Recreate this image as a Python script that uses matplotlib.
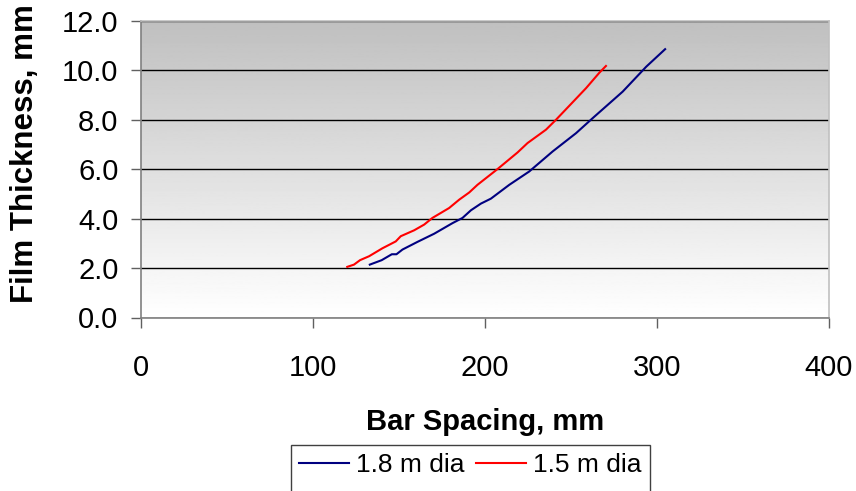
import numpy as np
import matplotlib.pyplot as plt
from matplotlib.patches import Rectangle

plt.rcParams['font.family'] = ['Liberation Sans', 'DejaVu Sans']

# bar spacing (mm) vs film thickness (mm)
spacing_18 = [133.2, 140.1, 146.0, 148.7, 152.2, 160.9, 170.6, 181.3, 187.1, 192.0,
              197.8, 203.6, 214.3, 225.9, 239.5, 253.1, 262.8, 280.2, 293.9, 304.9]
thick_18 = [2.14, 2.32, 2.56, 2.56, 2.75, 3.06, 3.39, 3.82, 4.03, 4.34,
            4.61, 4.81, 5.37, 5.91, 6.72, 7.46, 8.07, 9.14, 10.15, 10.86]

spacing_15 = [120.1, 124.0, 127.5, 132.8, 140.5, 148.3, 151.2, 159.0, 164.8, 169.6,
              179.3, 185.2, 191.0, 195.8, 207.5, 219.1, 224.9, 235.6, 241.4, 249.2,
              258.9, 266.7, 270.5]
thick_15 = [2.05, 2.14, 2.32, 2.48, 2.80, 3.08, 3.29, 3.53, 3.76, 4.03,
            4.43, 4.77, 5.06, 5.37, 6.01, 6.68, 7.06, 7.60, 8.00, 8.57,
            9.28, 9.91, 10.18]

W, H = 856, 491
fig = plt.figure(figsize=(W / 100, H / 100), dpi=100)
ax = fig.add_axes([140.7 / W, 1 - 317.5 / H, (828.7 - 140.7) / W, (317.5 - 21) / H])

# grey-to-white gradient background like the Excel plot area
grad = np.linspace(1.0, 0.75, 256).reshape(-1, 1)
ax.imshow(grad, cmap='gray', vmin=0, vmax=1, aspect='auto', origin='lower',
          extent=[0, 1, 0, 1], transform=ax.transAxes, zorder=0)

ax.plot(spacing_18, thick_18, color='#000080', lw=1.5, label='1.8 m dia', zorder=3)
ax.plot(spacing_15, thick_15, color='#ff0000', lw=1.5, label='1.5 m dia', zorder=3)

ax.set_xlim(0, 400)
ax.set_ylim(0, 12)
ax.set_xticks([0, 100, 200, 300, 400])
ax.set_yticks(np.arange(0, 12.1, 2))
ax.set_yticklabels(['%.1f' % v for v in np.arange(0, 12.1, 2)])
ax.yaxis.grid(True, color='black', lw=1.0, zorder=1)
ax.set_axisbelow(True)

for side in ['left', 'bottom']:
    ax.spines[side].set_color('#808080')
    ax.spines[side].set_linewidth(1.2)
for side in ['top', 'right']:
    ax.spines[side].set_color('#c0c0c0')
    ax.spines[side].set_linewidth(1.2)

ax.tick_params(axis='both', direction='out', length=7, width=1, color='#606060',
               labelsize=21)
ax.tick_params(axis='x', pad=19)
ax.tick_params(axis='y', pad=9)

ax.set_xlabel('Bar Spacing, mm', fontsize=21, fontweight='bold', labelpad=19)
# the y title is clipped at the top edge in the original
fig.text(25 / W, 1 - 303 / H, 'Film Thickness, mm', rotation=90, fontsize=22.5,
         fontweight='bold', ha='center', va='bottom')

leg = fig.legend(loc='upper left', bbox_to_anchor=(291 / W, 1 - 445 / H), ncol=2,
                 fontsize=19, frameon=False,
                 handlelength=1.9, columnspacing=0.42, handletextpad=0.27,
                 borderpad=0.3, borderaxespad=0)

# legend box runs off the bottom edge in the original
fig.patches.append(Rectangle((291 / W, -0.05), (650 - 291) / W, 0.05 + (H - 445) / H,
                             transform=fig.transFigure, fill=False,
                             edgecolor='#404040', lw=1.0))

fig.savefig('out.png', dpi=100)
